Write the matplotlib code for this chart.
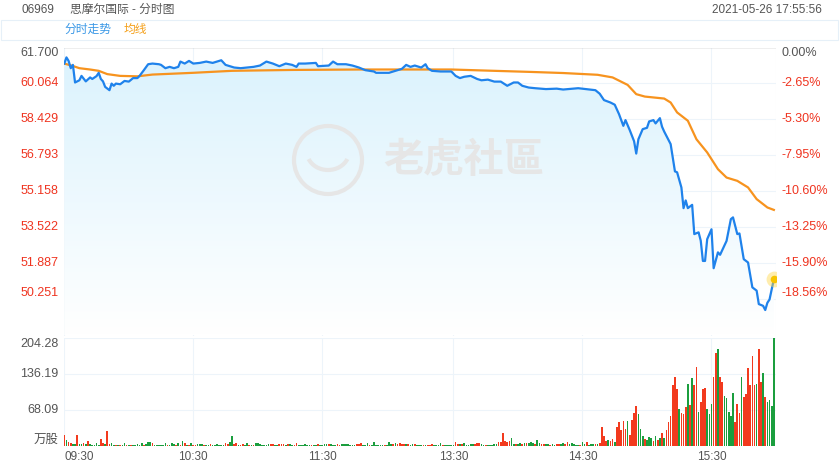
import numpy as np
import matplotlib
matplotlib.use("Agg")
import matplotlib.pyplot as plt
import matplotlib.patches as mpatches
from matplotlib.colors import LinearSegmentedColormap

plt.rcParams['font.family'] = ['Liberation Sans', 'Noto Sans CJK SC']

# ---- data ----
pre_close = 61.70
price_ticks = [61.700, 60.064, 58.429, 56.793, 55.158, 53.522, 51.887, 50.251]
pct_ticks = ['0.00%', '-2.65%', '-5.30%', '-7.95%', '-10.60%', '-13.25%', '-15.90%', '-18.56%']
vol_ticks = [68.09, 136.19, 204.28]
time_labels = ['09:30', '10:30', '11:30', '13:30', '14:30', '15:30']
time_pos = [0, 60, 120, 181, 241, 301]

# minute index (0 = 09:30, 331 = 16:00) and price
price_idx = [0, 1, 2, 3, 4, 5, 7, 8, 10, 12, 13, 15, 16, 17, 18, 19, 21, 22, 23, 24,
             26, 28, 30, 32, 34, 35, 37, 39, 41, 44, 45, 47, 49, 51, 53, 54, 56, 58, 60, 63,
             66, 69, 73, 75, 79, 82, 85, 88, 91, 94, 97, 100, 103, 106, 108, 109, 112, 115, 117, 118,
             123, 125, 127, 131, 134, 137, 140, 144, 145, 151, 154, 157, 159, 161, 163, 166, 168, 169, 171, 175,
             180, 182, 184, 186, 189, 192, 194, 197, 200, 203, 206, 209, 211, 213, 216, 219, 224, 229, 232, 239,
             247, 249, 251, 254, 256, 258, 260, 261, 263, 265, 266, 267, 269, 271, 272, 274, 275, 277, 278, 279,
             282, 283, 284, 285, 287, 288, 289, 290, 292, 293, 295, 296, 297, 298, 299, 301, 302, 304, 305, 308,
             310, 311, 313, 314, 316, 318, 320, 322, 323, 325, 326, 327, 328, 330]
price_val = [60.97, 61.25, 61.09, 60.76, 60.91, 60.11, 60.21, 60.41, 60.16, 60.34, 60.27, 60.40, 60.55, 60.27, 60.16, 59.91, 59.76, 60.06, 59.96, 60.06,
             60.03, 60.18, 60.15, 60.31, 60.31, 60.41, 60.67, 60.94, 60.97, 60.94, 60.91, 60.76, 60.82, 60.76, 60.82, 61.06, 60.97, 61.09, 60.97, 61.00,
             61.06, 61.00, 61.12, 60.91, 60.79, 60.76, 60.79, 60.82, 60.88, 61.06, 60.97, 60.85, 60.97, 60.91, 60.82, 60.97, 60.97, 60.99, 61.00, 60.85,
             60.88, 61.06, 60.94, 60.94, 60.88, 60.79, 60.67, 60.61, 60.55, 60.55, 60.64, 60.73, 60.91, 60.82, 60.88, 60.79, 60.94, 60.76, 60.64, 60.61,
             60.61, 60.41, 60.31, 60.37, 60.41, 60.27, 60.21, 60.24, 60.15, 60.15, 59.96, 60.11, 60.11, 59.96, 59.88, 59.85, 59.81, 59.83, 59.79, 59.85,
             59.76, 59.60, 59.31, 59.20, 59.10, 58.67, 58.14, 58.40, 57.94, 57.44, 56.88, 57.53, 57.99, 58.05, 58.34, 58.40, 58.25, 58.49, 58.10, 57.88,
             57.31, 56.70, 56.07, 56.03, 55.34, 54.40, 54.75, 54.40, 54.55, 53.22, 53.30, 52.92, 52.00, 52.00, 52.99, 53.44, 51.67, 52.39, 52.28, 52.91,
             53.90, 53.98, 53.22, 53.25, 52.08, 51.93, 50.80, 50.65, 50.04, 49.96, 49.77, 50.10, 50.25, 51.17]

avg_idx = [0, 4, 7, 12, 16, 20, 26, 34, 41, 60, 78, 106, 138, 180, 200, 217, 232, 248, 255, 262,
           266, 270, 279, 282, 285, 290, 294, 299, 304, 308, 313, 318, 322, 327, 330]
avg_val = [60.97, 60.86, 60.76, 60.70, 60.64, 60.49, 60.41, 60.39, 60.47, 60.55, 60.64, 60.68, 60.70, 60.70, 60.64, 60.59, 60.54, 60.46, 60.34, 60.00,
           59.58, 59.47, 59.38, 59.20, 58.75, 58.37, 57.53, 56.93, 56.17, 55.79, 55.64, 55.34, 54.81, 54.43, 54.32]

# volume per minute (万股), 0..330
volume = [21, 12, 7, 6, 3, 3, 21, 4, 4, 5,
          3, 10, 4, 2, 2, 6, 2, 13, 6, 4,
          28, 4, 6, 2, 2, 2, 2, 2, 6, 2,
          2, 2, 2, 2, 4, 2, 5, 2, 3, 7,
          7, 6, 2, 2, 2, 2, 2, 5, 2, 2,
          5, 3, 2, 5, 2, 10, 5, 2, 2, 5,
          2, 2, 4, 4, 4, 2, 2, 2, 3, 2,
          2, 4, 1, 1, 1, 5, 3, 8, 19, 3,
          5, 2, 2, 4, 2, 5, 2, 1, 2, 5,
          5, 3, 2, 2, 2, 3, 3, 4, 1, 1,
          3, 3, 3, 1, 3, 4, 1, 2, 6, 2,
          1, 1, 4, 2, 2, 2, 2, 2, 4, 2,
          2, 4, 4, 3, 3, 1, 1, 4, 2, 3,
          3, 3, 4, 1, 1, 2, 4, 3, 6, 1,
          2, 6, 2, 1, 7, 2, 2, 2, 2, 2,
          2, 7, 4, 3, 6, 4, 6, 4, 3, 3,
          4, 2, 3, 4, 2, 2, 2, 2, 2, 2,
          2, 4, 2, 2, 2, 6, 2, 2, 2, 1,
          1, 1, 7, 4, 3, 3, 5, 2, 2, 4,
          4, 3, 6, 6, 4, 2, 2, 2, 2, 2,
          4, 4, 8, 7, 24, 10, 8, 9, 15, 4,
          3, 4, 5, 4, 5, 5, 5, 8, 6, 4,
          11, 6, 4, 4, 4, 3, 2, 3, 2, 3,
          4, 3, 5, 3, 7, 3, 5, 4, 2, 2,
          2, 7, 4, 8, 2, 3, 3, 3, 3, 5,
          36, 18, 9, 11, 9, 13, 8, 35, 46, 30,
          47, 33, 47, 20, 49, 62, 75, 61, 32, 18,
          14, 11, 17, 16, 9, 19, 11, 16, 24, 16,
          31, 45, 57, 115, 130, 108, 70, 62, 60, 74,
          117, 78, 128, 115, 149, 64, 84, 108, 109, 70,
          61, 79, 130, 175, 183, 130, 122, 95, 91, 65,
          57, 100, 45, 79, 62, 130, 93, 98, 147, 115,
          171, 115, 117, 183, 122, 139, 93, 84, 87, 76,
          204.28]
# r = up minute, g = down minute
vol_dir = "".join([
    "rgrrggrggr", "grgggggrrg", "rrggrgrggr", "grgggggrgg", "grggggggrg",
    "ggrgrgrgrg", "rrgggrggrg", "gggggrrggr", "rgrrggrgrg", "ggggggrrgg",
    "rrrgrggrrg", "gggggrggrg", "gggrgggrrg", "ggggggrrrg", "ggrggggggr",
    "gggrgrrrrg", "rggrgggrgr", "rrggggrggg", "ggrrgrgggg", "grrrggrggg",
    "ggrrrrrrgg", "rggrgrgggr", "ggrrggrggr", "rggrrggggg", "rggrgggrgr",
    "rrrgrrgrrr", "rrgrrrrggg", "rgggrgrgrg", "rrrrrrgrrr", "grgrrgrrrg",
    "ggrrgrrggg", "ggrrrgrrrr", "rrgrrgrggg", "g"])

# ---- layout ----
W, H = 840, 470
fig = plt.figure(figsize=(W / 100, H / 100), dpi=100)


def fx(px):
    return px / W


def fy(py):
    return 1 - py / H


left, right = 64.3, 776.0
ax = fig.add_axes([fx(left), fy(335.5), fx(right - left), (335.5 - 47.5) / H])
ax2 = fig.add_axes([fx(left), fy(446), fx(right - left), (446 - 338) / H])

RED = '#ef3420'
GRAY = '#555555'
GRID = '#edf4fa'
n_slots = 331
ylo = price_ticks[0] - 8 * (price_ticks[0] - price_ticks[1])
yhi = price_ticks[0]

# gradient area under the price line
grad = np.linspace(0, 1, 256).reshape(-1, 1)
cmap = LinearSegmentedColormap.from_list('fade', ['#ffffff', '#daf2fd'])
im = ax.imshow(grad, extent=[0, n_slots, ylo, yhi], origin='lower', aspect='auto',
               cmap=cmap, zorder=1)
area = ax.fill_between(price_idx, price_val, ylo, color='none', lw=0)
im.set_clip_path(area.get_paths()[0], transform=ax.transData)

for v in price_ticks[1:]:
    ax.axhline(v, color=GRID, lw=0.8, zorder=0)
ax.axhline(price_ticks[0], color='#aaaaaa', lw=1.0, zorder=2)
for t in time_pos[1:] + [n_slots]:
    ax.axvline(t, color=GRID, lw=0.8, zorder=0)
ax.axvline(0, color=GRID, lw=0.8, zorder=0)

ax.plot(price_idx, price_val, color='#1f82eb', lw=1.6, zorder=4, solid_joinstyle='round')
ax.plot(avg_idx, avg_val, color='#f7931e', lw=1.6, zorder=3)
ax.scatter([price_idx[-1]], [price_val[-1]], s=130, color='#ffd84a', alpha=0.45, lw=0, zorder=5)
ax.scatter([price_idx[-1]], [price_val[-1]], s=30, color='#f7c400', lw=0, zorder=6)

ax.set_xlim(0, n_slots)
ax.set_ylim(ylo, yhi)
ax.axis('off')

# price / percent labels
ytr = ax.get_yaxis_transform()
for i, (v, p) in enumerate(zip(price_ticks, pct_ticks)):
    va = 'top' if i == 0 else ('bottom' if i == len(price_ticks) - 1 else 'center')
    col = GRAY if i == 0 else RED
    ax.text(-6 / (right - left), v, f'{v:.3f}', transform=ytr, ha='right', va=va,
            fontsize=9, color=col)
    ax.text(1 + 6 / (right - left), v, p, transform=ytr, ha='left', va=va,
            fontsize=9, color=col)

# watermark
wm = '#e6e6e6'
fig.patches.append(mpatches.Circle((3.28, 4.70 - 1.60), 0.34, transform=fig.dpi_scale_trans,
                                   fill=False, ec=wm, lw=3.0))
fig.patches.append(mpatches.Arc((3.28, 4.70 - 1.52), 0.42, 0.36, theta1=200, theta2=340,
                                transform=fig.dpi_scale_trans, ec=wm, lw=3.0))
fig.text(fx(464), fy(160), '老虎社區', ha='center', va='center', fontsize=29,
         color=wm, family=['Noto Sans CJK TC'], weight='bold')

# volume bars
bar_cols = ['#f23a1e' if d == 'r' else '#1b9e3e' for d in vol_dir]
ax2.bar(range(len(volume)), volume, width=0.78, color=bar_cols, lw=0, zorder=3)
for v in vol_ticks[:-1]:
    ax2.axhline(v, color=GRID, lw=0.8, zorder=0)
ax2.axhline(vol_ticks[-1], color=GRID, lw=0.8, zorder=0)
for t in [0] + time_pos[1:] + [n_slots]:
    ax2.axvline(t, color=GRID, lw=0.8, zorder=0)
ax2.set_xlim(0, n_slots)
ax2.set_ylim(0, vol_ticks[-1])
ax2.axis('off')

ytr2 = ax2.get_yaxis_transform()
for i, v in enumerate(vol_ticks):
    va = 'top' if i == len(vol_ticks) - 1 else 'center'
    ax2.text(-6 / (right - left), v, f'{v:.2f}', transform=ytr2, ha='right', va=va,
             fontsize=9, color=GRAY)
ax2.text(-6 / (right - left), 0, '万股', transform=ytr2, ha='right', va='bottom',
         fontsize=9, color=GRAY)

xtr = ax2.get_xaxis_transform()
for i, (t, lab) in enumerate(zip(time_pos, time_labels)):
    ax2.text(t, -11 / 108, lab, transform=xtr, ha='left' if i == 0 else 'center',
             va='center', fontsize=8.5, color=GRAY)

# header
fig.text(fx(21), fy(10), '06969', ha='left', va='center', fontsize=8.5, color=GRAY)
fig.text(fx(70), fy(10), '思摩尔国际 - 分时图', ha='left', va='center', fontsize=8.5, color=GRAY)
fig.text(fx(822), fy(10), '2021-05-26 17:55:56', ha='right', va='center', fontsize=8.5, color=GRAY)
fig.patches.append(mpatches.Rectangle((fx(1), fy(40)), fx(837), (40 - 20) / H,
                                      transform=fig.transFigure, fill=False,
                                      ec='#e6f0f8', lw=0.8))
fig.text(fx(64), fy(30), '分时走势', ha='left', va='center', fontsize=8.5, color='#3a98e6')
fig.text(fx(124), fy(30), '均线', ha='left', va='center', fontsize=8.5, color='#f5a01a')

fig.savefig('out.png', dpi=100)
